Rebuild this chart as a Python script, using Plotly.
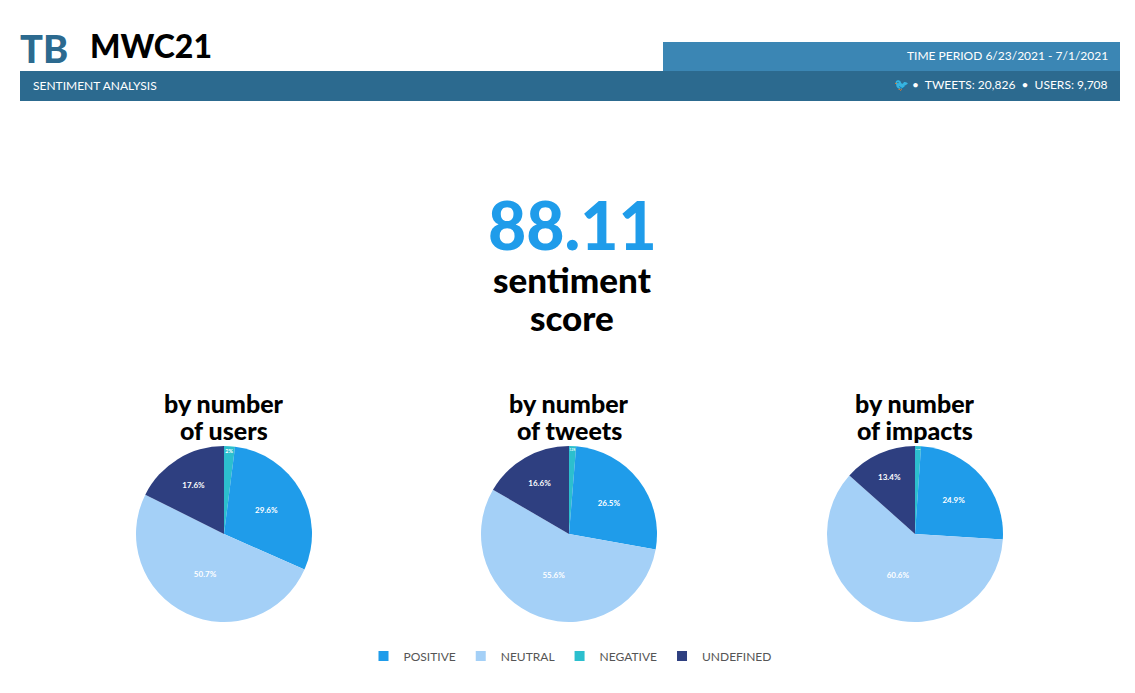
import plotly.graph_objects as go

labels = ["NEGATIVE", "POSITIVE", "NEUTRAL", "UNDEFINED"]
legend_order = ["POSITIVE", "NEUTRAL", "NEGATIVE", "UNDEFINED"]
colors = {"POSITIVE": "#1f9cea", "NEUTRAL": "#a4d0f7", "NEGATIVE": "#2cbfce", "UNDEFINED": "#2e3f80"}
users = [2.0, 29.6, 50.7, 17.6]
tweets = [1.3, 26.5, 55.6, 16.6]
impacts = [1.1, 24.9, 60.6, 13.4]
titles = [("by number", "of users"), ("by number", "of tweets"), ("by number", "of impacts")]
score = "88.11"

OFF = 8
W, H = 1135 - 2 * OFF, 693 - 2 * OFF
def fx(x): return (x - OFF) / W
def fy(y): return 1 - (y - OFF) / H
def dom(x0, x1, y0, y1):
    return dict(x=[fx(x0), fx(x1)], y=[fy(y1), fy(y0)])

fig = go.Figure()
doms = [(136, 312), (481, 657), (827, 1003)]
for (x0, x1), vals, t in zip(doms, [users, tweets, impacts], titles):
    fig.add_trace(go.Pie(
        labels=labels, values=vals, sort=False, direction="clockwise", rotation=0,
        marker=dict(colors=[colors[l] for l in labels]),
        texttemplate="%{value}%", textposition="inside", insidetextorientation="horizontal",
        textfont=dict(color="white", size=8, family="Lato", weight="bold"), showlegend=False,
        domain=dom(x0, x1, 446, 622), hoverinfo="label+percent"))
    for i, line in enumerate(t):
        fig.add_annotation(x=fx((x0 + x1) / 2), y=fy(403 + 27 * i), xref="paper", yref="paper",
                           text=line, showarrow=False, font=dict(size=25, family="Lato", color="black", weight=900),
                           yanchor="middle", xanchor="center", height=26)

for l in legend_order:
    fig.add_trace(go.Scatter(x=[None], y=[None], mode="markers", name=l,
                             marker=dict(symbol="square", size=10, color=colors[l])))

shapes = [
    dict(type="rect", xref="paper", yref="paper", x0=fx(20), x1=fx(1120), y0=fy(101), y1=fy(71),
         fillcolor="#2c6a8f", line_width=0),
    dict(type="rect", xref="paper", yref="paper", x0=fx(663), x1=fx(1120), y0=fy(71), y1=fy(42),
         fillcolor="#3b86b4", line_width=0),
]
ann = [
    dict(x=fx(18), y=fy(48), text="TB", font=dict(size=38, family="Lato", color="#2c6a8f", weight=900), xanchor="left"),
    dict(x=fx(88), y=fy(45), text="MWC21", font=dict(size=32, family="Lato", color="black", weight=900), xanchor="left"),
    dict(x=fx(31), y=fy(86), text="SENTIMENT ANALYSIS", font=dict(size=12, family="Lato", color="white"), xanchor="left"),
    dict(x=fx(1110), y=fy(56), text="TIME PERIOD 6/23/2021 - 7/1/2021", font=dict(size=12, family="Lato", color="white"), xanchor="right"),
    dict(x=fx(1110), y=fy(85), text="🐦 •  TWEETS: 20,826  •  USERS: 9,708", font=dict(size=12, family="Lato", color="white"), xanchor="right"),
    dict(x=fx(572), y=fy(224), text=score, font=dict(size=66, family="Lato", color="#1f9cea", weight=900)),
    dict(x=fx(572), y=fy(279), text="sentiment", font=dict(size=35, family="Lato", color="black", weight=900), height=36),
    dict(x=fx(572), y=fy(317), text="score", font=dict(size=35, family="Lato", color="black", weight=900), height=36),
]
for a in ann:
    fig.add_annotation(xref="paper", yref="paper", showarrow=False, yanchor="middle", **a)

fig.update_layout(
    width=W, height=H, margin=dict(l=0, r=0, t=0, b=0), paper_bgcolor="white", plot_bgcolor="white",
    shapes=shapes,
    xaxis=dict(visible=False), yaxis=dict(visible=False),
    legend=dict(orientation="h", x=fx(570), xanchor="center", y=fy(656), yanchor="middle",
                font=dict(size=12, family="Lato", color="#555"), itemwidth=30, tracegroupgap=0),
)
fig.write_html("out.html")
